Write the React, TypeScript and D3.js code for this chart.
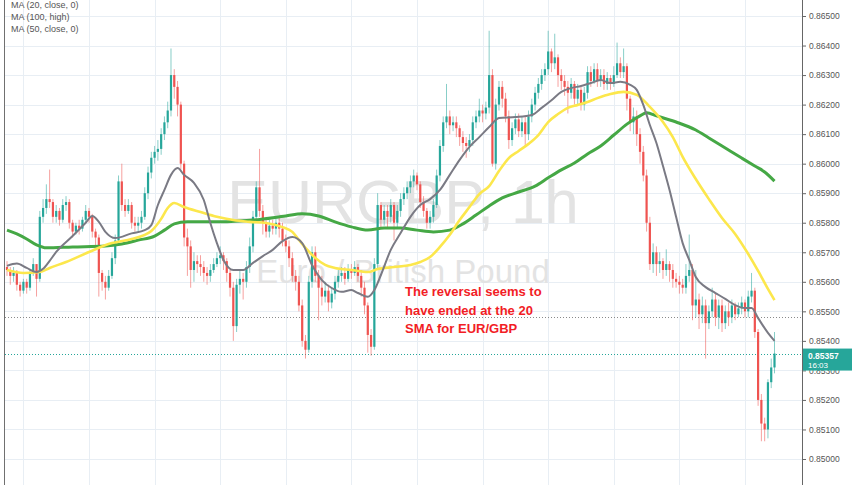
import React, { useEffect, useRef } from 'react';
import * as d3 from 'd3';

// EUR/GBP hourly candles, prices kept as pips above 0.85000
const BASE = 0.85;
const PIP = 0.0001;

const firstOpen = 65;
const closes = [
  64, 62, 63, 59, 57, 60, 58, 63, 66, 61,
  82, 85, 88, 87, 82, 84, 81, 86, 87, 80,
  77, 79, 78, 81, 84, 82, 77, 75, 63, 60,
  58, 62, 68, 74, 94, 86, 84, 86, 80, 79,
  80, 82, 90, 97, 102, 104, 105, 110, 114, 118,
  130, 126, 120, 100, 75, 72, 64, 67, 66, 65,
  63, 62, 64, 66, 68, 69, 67, 63, 58, 45,
  59, 61, 60, 65, 72, 82, 92, 84, 80, 77,
  79, 78, 80, 78, 74, 72, 68, 62, 60, 52,
  40, 37, 60, 70, 62, 58, 55, 57, 53, 56,
  60, 62, 63, 61, 64, 63, 65, 62, 58, 52,
  42, 38, 66, 86, 81, 84, 82, 86, 80, 84,
  88, 90, 92, 94, 96, 93, 87, 84, 80, 82,
  86, 96, 106, 114, 116, 113, 114, 112, 109, 107,
  106, 108, 114, 116, 118, 117, 119, 130, 100, 120,
  126, 122, 116, 108, 112, 115, 111, 114, 110, 116,
  120, 124, 127, 130, 132, 138, 134, 136, 130, 128,
  126, 124, 127, 122, 125, 120, 124, 131, 128, 132,
  128, 130, 127, 129, 127, 130, 134, 131, 133, 122,
  114, 116, 110, 104, 96, 80, 66, 70, 66, 67,
  64, 66, 64, 61, 60, 59, 58, 62, 64, 52,
  54, 49, 52, 46, 50, 54, 48, 52, 46, 50,
  48, 52, 49, 51, 53, 50, 55, 57, 43, 20,
  12, 10, 26, 31, 35.7,
];
const highs = [
  67, 65, 65, 64, 60, 61, 61, 64, 68, 66,
  84, 88, 93, 98, 88, 86, 85, 88, 89, 88,
  81, 80, 81, 82, 86, 85, 83, 78, 76, 64,
  62, 64, 70, 76, 96, 100, 88, 88, 87, 82,
  82, 84, 92, 99, 104, 106, 108, 112, 116, 121,
  139, 132, 128, 121, 101, 78, 74, 70, 69, 69,
  67, 65, 66, 68, 70, 72, 70, 68, 64, 60,
  61, 64, 63, 67, 75, 84, 94, 105, 86, 82,
  81, 81, 82, 82, 80, 76, 74, 70, 64, 62,
  54, 42, 62, 72, 72, 64, 62, 60, 59, 58,
  62, 64, 65, 65, 66, 66, 67, 66, 64, 60,
  53, 44, 68, 90, 87, 86, 86, 88, 87, 86,
  90, 92, 94, 96, 98, 97, 94, 89, 85, 84,
  88, 98, 108, 116, 127, 118, 116, 116, 113, 111,
  109, 110, 116, 118, 122, 120, 121, 145, 132, 122,
  128, 128, 124, 118, 114, 117, 117, 116, 116, 118,
  122, 126, 129, 132, 134, 145, 139, 144, 137, 132,
  130, 128, 129, 128, 127, 126, 126, 133, 133, 134,
  134, 132, 132, 131, 130, 133, 141, 136, 139, 134,
  123, 119, 118, 112, 106, 98, 82, 73, 72, 70,
  68, 71, 67, 66, 63, 62, 61, 66, 76, 66,
  64, 56, 55, 54, 52, 58, 56, 54, 54, 52,
  53, 54, 53, 53, 55, 54, 57, 63, 58, 44,
  22, 14, 27, 34, 43,
];
const lows = [
  62, 59, 60, 57, 55, 56, 56, 57, 62, 55,
  60, 80, 83, 85, 80, 80, 79, 80, 84, 78,
  75, 76, 76, 77, 80, 80, 75, 72, 55, 57,
  54, 57, 61, 66, 73, 84, 82, 83, 78, 77,
  77, 78, 81, 88, 95, 100, 101, 103, 108, 112,
  116, 122, 116, 98, 72, 62, 58, 60, 63, 62,
  60, 59, 60, 63, 65, 66, 64, 60, 55, 40,
  43, 56, 54, 58, 63, 70, 80, 82, 76, 75,
  75, 76, 76, 75, 72, 70, 65, 60, 57, 50,
  38, 34, 36, 58, 60, 47, 52, 53, 50, 51,
  54, 58, 60, 59, 60, 61, 62, 60, 55, 49,
  36, 35, 37, 64, 78, 79, 78, 80, 74, 78,
  82, 86, 88, 90, 92, 91, 85, 82, 78, 78,
  80, 85, 94, 104, 112, 110, 111, 109, 106, 104,
  102, 104, 106, 112, 114, 114, 115, 117, 99, 98,
  118, 119, 114, 105, 106, 110, 109, 109, 106, 108,
  114, 118, 122, 125, 128, 130, 131, 132, 126, 125,
  123, 117, 122, 120, 120, 118, 118, 122, 126, 127,
  126, 126, 125, 125, 125, 126, 129, 129, 129, 118,
  111, 110, 106, 100, 94, 77, 64, 63, 62, 63,
  61, 62, 60, 58, 58, 56, 56, 56, 60, 47,
  48, 44, 46, 34, 44, 48, 45, 44, 43, 44,
  45, 46, 47, 48, 49, 48, 48, 53, 41, 18,
  6, 6, 7, 24, 29,
];

// moving averages: [bar index, pips]
const ma20 = [
  [0, 65.4], [3, 66.2], [6, 64.7], [9, 63.3], [11, 64.4], [13, 67.1], [15, 70.1],
  [20, 75.5], [24, 80.0], [26, 82.3], [28, 80.3], [30, 76.9], [33, 74.8], [38, 76.4],
  [42, 77.5], [44, 79.2], [46, 86.0], [48, 91.1], [50, 96.2], [52, 98.5], [54, 96.2],
  [57, 93.5], [60, 87.7], [62, 79.9], [64, 73.1], [66, 67.4], [69, 64.0], [72, 64.0],
  [75, 66.4], [78, 68.7], [81, 70.8], [84, 73.8], [87, 75.2], [90, 73.1], [93, 65.7],
  [96, 60.6], [99, 57.9], [102, 56.6], [105, 57.2], [107, 56.2], [110, 54.9], [112, 57.2],
  [114, 62.3], [117, 70.8], [120, 76.5], [123, 82.0], [126, 86.0], [129, 88.0], [132, 91.1],
  [135, 96.2], [138, 101.3], [141, 105.7], [144, 109.0], [147, 112.4], [150, 115.5],
  [155, 115.8], [160, 116.5], [163, 118.9], [166, 121.5], [169, 124.3], [172, 125.6],
  [175, 126.3], [178, 127.3], [181, 128.3], [184, 127.3], [187, 127.7], [190, 126.7],
  [192, 125.0], [194, 119.9], [196, 113.1], [198, 107.0], [200, 99.2], [202, 91.1],
  [204, 82.0], [206, 73.1], [208, 67.4], [210, 61.6], [213, 58.2], [216, 56.2],
  [219, 54.2], [222, 52.1], [225, 51.1], [227, 51.1], [229, 47.7], [232, 42.7], [234, 40.0],
];
const ma50 = [
  [0, 64.0], [5, 63.0], [10, 63.3], [13, 64.7], [18, 66.7], [25, 70.1], [32, 73.1],
  [38, 74.5], [42, 75.9], [44, 77.2], [47, 81.3], [49, 85.0], [51, 86.7], [54, 85.3],
  [59, 83.6], [64, 82.0], [69, 80.9], [74, 80.3], [79, 79.9], [84, 78.5], [87, 76.9],
  [89, 74.2], [91, 71.5], [94, 68.1], [97, 65.7], [100, 64.7], [105, 64.0], [110, 63.3],
  [113, 64.3], [118, 65.0], [123, 65.7], [126, 66.7], [129, 68.4], [132, 71.8],
  [135, 75.9], [138, 80.9], [141, 85.3], [144, 89.7], [147, 92.4], [150, 97.5],
  [153, 101.9], [156, 104.3], [159, 106.7], [162, 109.7], [165, 114.1], [168, 116.8],
  [171, 118.9], [174, 119.9], [177, 120.9], [180, 122.2], [184, 123.6], [188, 124.3],
  [192, 123.3], [196, 119.2], [200, 114.1], [203, 109.0], [206, 102.3], [210, 94.8],
  [214, 88.0], [218, 81.6], [222, 76.2], [226, 69.4], [229, 63.7], [232, 57.6], [234, 53.8],
];
const ma100 = [
  [0, 77.5], [3, 76.2], [6, 74.5], [9, 72.5], [12, 71.5], [20, 71.8], [30, 72.1],
  [35, 72.8], [40, 74.1], [45, 75.5], [48, 77.5], [51, 79.6], [55, 80.3], [65, 80.3],
  [75, 80.9], [85, 82.3], [90, 83.0], [95, 82.3], [100, 80.3], [105, 78.6], [110, 77.5],
  [115, 78.2], [120, 78.2], [125, 77.5], [130, 76.9], [135, 77.5], [139, 79.6],
  [143, 82.6], [147, 85.7], [151, 88.4], [156, 90.4], [161, 92.4], [165, 95.2],
  [169, 97.9], [173, 100.2], [177, 103.3], [181, 106.0], [185, 109.7], [189, 113.4],
  [193, 116.2], [195, 117.2], [198, 116.2], [204, 114.1], [210, 111.4], [214, 108.7],
  [219, 105.3], [224, 101.9], [228, 99.2], [231, 97.2], [234, 94.1],
];

const priceTicks = [
  0.85, 0.851, 0.852, 0.853, 0.854, 0.855, 0.856, 0.857,
  0.858, 0.859, 0.86, 0.861, 0.862, 0.863, 0.864, 0.865,
];
const gridBars = [5, 25, 45, 65, 85, 105, 125, 145, 165, 185, 205, 225];
const legendItems = ['MA (20, close, 0)', 'MA (100, high)', 'MA (50, close, 0)'];
const noteLines = ['The reversal seems to', 'have ended at the 20', 'SMA for EUR/GBP'];
const lastPrice = 0.85357;
const lastTime = '16:03';
const markedLevel = 0.85481;
const symbolText = 'EURGBP, 1h';
const symbolName = 'Euro / British Pound';

const UP = '#26a69a';
const DOWN = '#ef5350';
const FONT = '"Liberation Sans", Arial, sans-serif';

export default function App() {
  const svgRef = useRef<SVGSVGElement>(null);

  useEffect(() => {
    const width = 852;
    const height = 485;
    const axisX = 802;
    const left = 5;

    const svg = d3.select(svgRef.current);
    svg.selectAll('*').remove();

    const x = d3.scaleLinear().domain([0, closes.length - 1]).range([7, 774.5]);
    const y = d3.scaleLinear().domain([0.85, 0.865]).range([459, 16]);
    const py = (p: number) => y(BASE + p * PIP);

    svg.append('rect').attr('width', width).attr('height', height).attr('fill', '#fff');

    // grid
    svg
      .append('g')
      .selectAll('line')
      .data(priceTicks)
      .join('line')
      .attr('x1', left)
      .attr('x2', axisX)
      .attr('y1', (d) => Math.round(y(d)) + 0.5)
      .attr('y2', (d) => Math.round(y(d)) + 0.5)
      .attr('stroke', '#e8eef4');

    svg
      .append('g')
      .selectAll('line')
      .data(gridBars)
      .join('line')
      .attr('x1', (d) => Math.round(x(d)) + 0.5)
      .attr('x2', (d) => Math.round(x(d)) + 0.5)
      .attr('y1', 0)
      .attr('y2', height)
      .attr('stroke', '#e8eef4');

    // watermark
    svg
      .append('text')
      .attr('x', 403)
      .attr('y', 223)
      .attr('text-anchor', 'middle')
      .attr('fill', '#e3e3e3')
      .style('font', `61px ${FONT}`)
      .text(symbolText);
    svg
      .append('text')
      .attr('x', 403)
      .attr('y', 283)
      .attr('text-anchor', 'middle')
      .attr('fill', '#e3e3e3')
      .style('font', `33px ${FONT}`)
      .text(symbolName);

    // horizontal price lines
    svg
      .append('line')
      .attr('x1', left)
      .attr('x2', axisX)
      .attr('y1', Math.round(y(markedLevel)) + 0.5)
      .attr('y2', Math.round(y(markedLevel)) + 0.5)
      .attr('stroke', '#8a8a8a')
      .attr('stroke-dasharray', '1,2');
    svg
      .append('line')
      .attr('x1', left)
      .attr('x2', axisX)
      .attr('y1', Math.round(y(lastPrice)) + 0.5)
      .attr('y2', Math.round(y(lastPrice)) + 0.5)
      .attr('stroke', UP)
      .attr('stroke-dasharray', '1,2');

    // candles
    const bars = closes.map((c, i) => {
      const o = i === 0 ? firstOpen : closes[i - 1];
      return { i, o, c, h: Math.max(highs[i], o, c), l: Math.min(lows[i], o, c) };
    });
    const candles = svg.append('g');
    candles
      .selectAll('line')
      .data(bars)
      .join('line')
      .attr('x1', (d) => x(d.i))
      .attr('x2', (d) => x(d.i))
      .attr('y1', (d) => py(d.h))
      .attr('y2', (d) => py(d.l))
      .attr('stroke', (d) => (d.c >= d.o ? UP : DOWN))
      .attr('stroke-opacity', 0.55)
      .attr('stroke-width', 1);
    candles
      .selectAll('rect')
      .data(bars)
      .join('rect')
      .attr('x', (d) => x(d.i) - 1.1)
      .attr('width', 2.2)
      .attr('y', (d) => py(Math.max(d.o, d.c)))
      .attr('height', (d) => Math.max(1, Math.abs(py(d.o) - py(d.c))))
      .attr('fill', (d) => (d.c >= d.o ? UP : DOWN));

    // moving averages
    const maLine = d3
      .line<number[]>()
      .x((d) => x(d[0]))
      .y((d) => py(d[1]))
      .curve(d3.curveMonotoneX);
    svg.append('path').attr('d', maLine(ma100)).attr('fill', 'none').attr('stroke', '#45a845').attr('stroke-width', 3);
    svg.append('path').attr('d', maLine(ma50)).attr('fill', 'none').attr('stroke', '#fce74c').attr('stroke-width', 2.6);
    svg.append('path').attr('d', maLine(ma20)).attr('fill', 'none').attr('stroke', '#7a7a84').attr('stroke-width', 2);

    // comment
    svg
      .append('g')
      .selectAll('text')
      .data(noteLines)
      .join('text')
      .attr('x', 405)
      .attr('y', (_, i) => 296 + i * 18.5)
      .attr('fill', '#f21d25')
      .style('font', `bold 13px ${FONT}`)
      .text((d) => d);

    // price scale
    svg.append('rect').attr('x', axisX).attr('y', 0).attr('width', width - axisX).attr('height', height).attr('fill', '#fff');
    const axis = svg
      .append('g')
      .attr('transform', `translate(${axisX},0)`)
      .call(d3.axisRight(y).tickValues(priceTicks).tickFormat(d3.format('.5f')).tickSize(4).tickPadding(3));
    axis.select('.domain').remove();
    axis.selectAll('line').attr('stroke', '#666');
    axis.selectAll('text').attr('fill', '#555').style('font', `8.5px ${FONT}`);

    svg.append('line').attr('x1', axisX + 0.5).attr('x2', axisX + 0.5).attr('y1', 0).attr('y2', height).attr('stroke', '#666');
    svg.append('line').attr('x1', left - 0.5).attr('x2', left - 0.5).attr('y1', 0).attr('y2', height).attr('stroke', '#707070');

    // last price label
    const ly = y(lastPrice);
    svg.append('rect').attr('x', axisX + 1).attr('y', ly - 5).attr('width', width - axisX).attr('height', 22).attr('fill', UP);
    svg
      .append('text')
      .attr('x', 808)
      .attr('y', ly + 5)
      .attr('fill', '#fff')
      .style('font', `bold 8.5px ${FONT}`)
      .text(d3.format('.5f')(lastPrice));
    svg
      .append('text')
      .attr('x', 808)
      .attr('y', ly + 14)
      .attr('fill', '#fff')
      .style('font', `8px ${FONT}`)
      .text(lastTime);

    // legend
    svg
      .append('g')
      .selectAll('text')
      .data(legendItems)
      .join('text')
      .attr('x', 11)
      .attr('y', (_, i) => 8 + i * 12)
      .attr('fill', '#555')
      .style('font', `9px ${FONT}`)
      .text((d) => d);
  }, []);

  return (
    <svg
      ref={svgRef}
      width={852}
      height={485}
      style={{ position: 'absolute', left: 0, top: 0, display: 'block' }}
    />
  );
}
